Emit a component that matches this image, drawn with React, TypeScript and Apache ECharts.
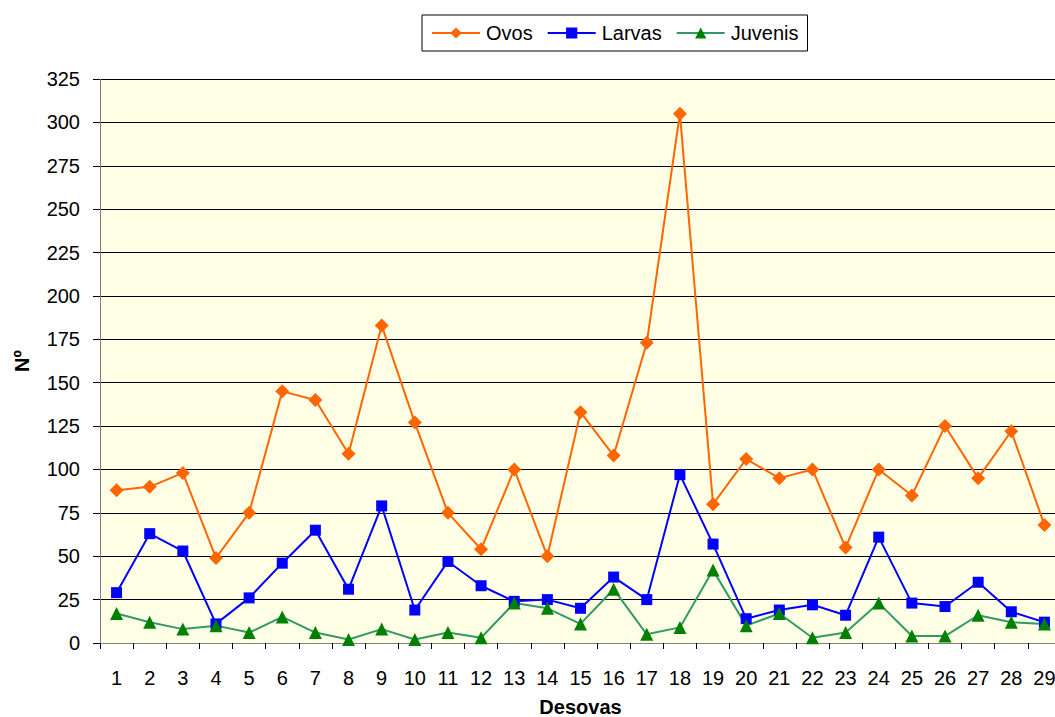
import React, { useEffect, useRef } from "react";
import * as echarts from "echarts";

const categories = ["1","2","3","4","5","6","7","8","9","10","11","12","13","14","15","16","17","18","19","20","21","22","23","24","25","26","27","28","29"];
const ovos = [88, 90, 98, 49, 75, 145, 140, 109, 183, 127, 75, 54, 100, 50, 133, 108, 173, 305, 80, 106, 95, 100, 55, 100, 85, 125, 95, 122, 68];
const larvas = [29, 63, 53, 11, 26, 46, 65, 31, 79, 19, 47, 33, 24, 25, 20, 38, 25, 97, 57, 14, 19, 22, 16, 61, 23, 21, 35, 18, 12];
const juvenis = [17, 12, 8, 10, 6, 15, 6, 2, 8, 2, 6, 3, 23, 20, 11, 31, 5, 9, 42, 10, 17, 3, 6, 23, 4, 4, 16, 12, 11];
const yTicks = { min: 0, max: 325, interval: 25 };

const FONT = "'Liberation Sans', Arial, sans-serif";

export default function App() {
  const ref = useRef<HTMLDivElement>(null);
  useEffect(() => {
    if (!ref.current) return;
    const chart = echarts.init(ref.current, undefined, { renderer: "svg" });
    chart.setOption({
      animation: false,
      textStyle: { fontFamily: FONT },
      legend: {
        left: 422,
        top: 15,
        itemWidth: 48,
        itemHeight: 14,
        itemGap: 14,
        padding: [8, 9, 8, 9],
        borderColor: "#000",
        borderWidth: 1,
        textStyle: { fontSize: 20, color: "#000", fontFamily: FONT, padding: [0, 0, 0, 1] },
        data: ["Ovos", "Larvas", "Juvenis"],
      },
      grid: {
        left: 100,
        top: 79,
        width: 961,
        bottom: 74,
        show: true,
        backgroundColor: "#FFFFE6",
        borderWidth: 0,
        containLabel: false,
        outerBoundsMode: "none",
      },
      xAxis: {
        type: "category",
        data: categories,
        boundaryGap: true,
        name: "Desovas",
        nameLocation: "middle",
        nameGap: 54,
        nameTextStyle: { fontSize: 20, fontWeight: "bold", color: "#000", fontFamily: FONT },
        axisLine: { show: true, lineStyle: { color: "#808080", width: 1 } },
        axisTick: { show: true, length: 6, lineStyle: { color: "#000" }, alignWithLabel: false },
        axisLabel: { fontSize: 20, color: "#000", margin: 25, fontFamily: FONT },
      },
      yAxis: {
        type: "value",
        min: yTicks.min,
        max: yTicks.max,
        interval: yTicks.interval,
        name: "Nº",
        nameLocation: "middle",
        nameRotate: 90,
        nameGap: 68,
        nameTextStyle: { fontSize: 20, fontWeight: "bold", color: "#000", fontFamily: FONT },
        axisLine: { show: true, lineStyle: { color: "#808080", width: 1 } },
        axisTick: { show: true, length: 7, lineStyle: { color: "#000" } },
        axisLabel: { fontSize: 20, color: "#000", margin: 20, fontFamily: FONT },
        splitLine: { show: true, lineStyle: { color: "#000", width: 1 } },
      },
      series: [
        {
          name: "Ovos",
          type: "line",
          data: ovos,
          symbol: "diamond",
          symbolSize: 14,
          lineStyle: { color: "#FF6600", width: 2 },
          itemStyle: { color: "#FF6600" },
        },
        {
          name: "Larvas",
          type: "line",
          data: larvas,
          symbol: "rect",
          symbolSize: 11,
          lineStyle: { color: "#0000FF", width: 2 },
          itemStyle: { color: "#0000FF" },
        },
        {
          name: "Juvenis",
          type: "line",
          data: juvenis,
          symbol: "triangle",
          symbolSize: 13,
          lineStyle: { color: "#339966", width: 2 },
          itemStyle: { color: "#008000" },
        },
      ],
    });
    return () => chart.dispose();
  }, []);
  return (
    <div
      ref={ref}
      style={{ position: "fixed", left: 0, top: 0, width: 1055, height: 717, background: "#fff" }}
    />
  );
}
